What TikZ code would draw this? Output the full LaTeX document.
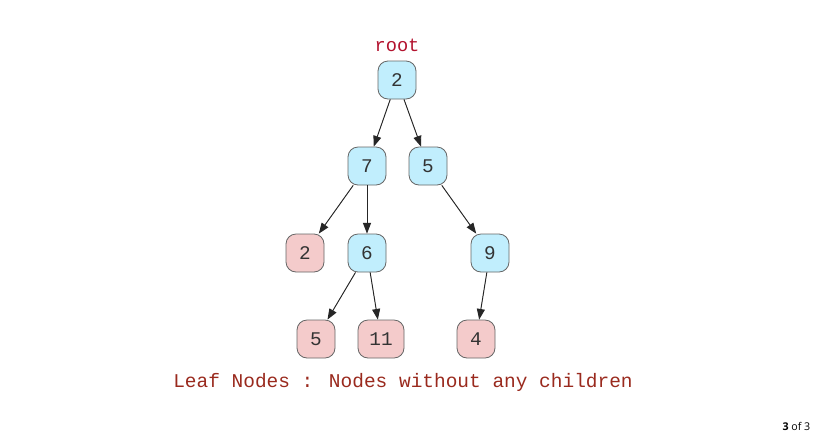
\documentclass[tikz,border=0pt]{standalone}
\usepackage{fontspec}
\usepackage{tikz}
\usetikzlibrary{arrows.meta}
\newfontfamily\treefont{Liberation Mono}
\newfontfamily\pagefont{Open Sans}
\definecolor{inner}{HTML}{C1EEFD}
\definecolor{leaf}{HTML}{F4CBCB}
\definecolor{edgegray}{HTML}{666666}
\definecolor{rootred}{HTML}{B3122E}
\definecolor{leafnote}{HTML}{9A2A1E}
\tikzset{
	treenode/.style={shape=rectangle,rounded corners=7.5pt,draw=edgegray,line width=0.6pt,minimum width=28.5pt,minimum height=28.5pt,inner sep=2pt,font=\treefont\fontsize{14.5}{15}\selectfont,text=black!80},
	innernode/.style={treenode,fill=inner},
	leafnode/.style={treenode,fill=leaf},
	link/.style={-{Triangle[length=8pt,width=6pt]},draw=black!85,line width=0.7pt,fill=black!85}
}
\begin{document}
\begin{tikzpicture}[x=0.75pt,y=-0.75pt]
		\useasboundingbox[fill=white] (0,0) rectangle (817,440);
		\node [text=rootred,font=\treefont\fontsize{14}{15}\selectfont] (L) at (397,45) {root};
		\node [innernode] (A) at (397,80) {2};
		\node [innernode] (B) at (367,166) {7};
		\node [innernode] (C) at (428,166) {5};
		\node [leafnode] (D) at (305,253) {2};
		\node [innernode] (E) at (367,253) {6};
		\node [innernode] (F) at (490,253) {9};
		\node [leafnode] (G) at (316,339) {5};
		\node [leafnode,minimum width=34.5pt] (H) at (381,339) {11};
		\node [leafnode] (I) at (476,339) {4};
		\draw [link] (A) -- (B);
		\draw [link] (A) -- (C);
		\draw [link] (B) -- (D);
		\draw [link] (B) -- (E);
		\draw [link] (C) -- (F);
		\draw [link] (E) -- (G);
		\draw [link] (E) -- (H);
		\draw [link] (F) -- (I);
		\node [text=leafnote,font=\treefont\fontsize{14.6}{15}\selectfont] (N) at (403,382) {Leaf Nodes : Nodes without any children};
		\node [anchor=east,font=\pagefont\fontsize{8}{9}\selectfont] (P) at (815,426) {\textbf{3} of 3};
	\end{tikzpicture}
\end{document}
